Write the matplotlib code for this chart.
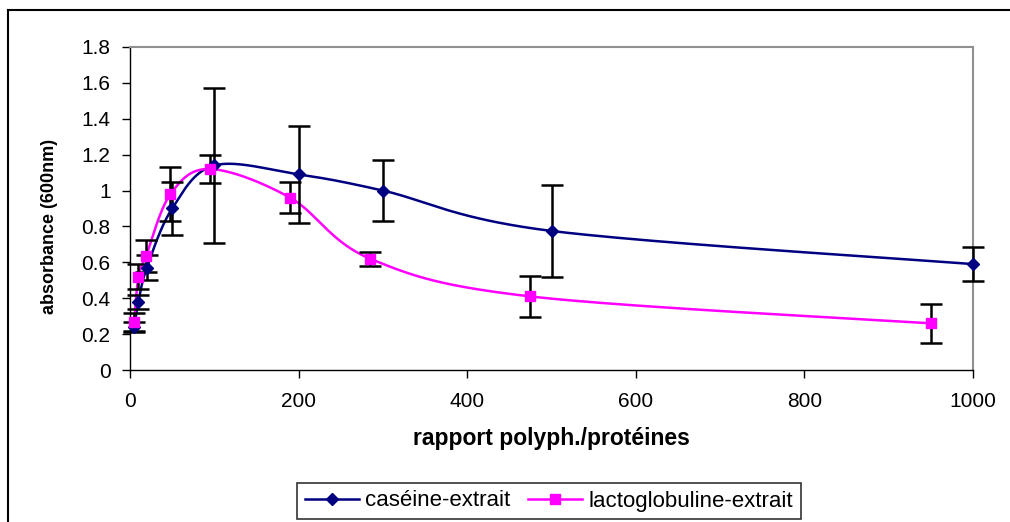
import matplotlib
matplotlib.use("Agg")
import matplotlib.pyplot as plt
import numpy as np
from matplotlib.lines import Line2D

# values
casein_x = [5, 10, 20, 50, 100, 200, 300, 500, 1000]
casein_y = [0.24, 0.38, 0.57, 0.90, 1.14, 1.09, 1.00, 0.775, 0.59]
casein_err = [0.03, 0.04, 0.07, 0.15, 0.43, 0.27, 0.17, 0.255, 0.095]

lacto_x = [5, 10, 19, 48, 95, 190, 285, 475, 950]
lacto_y = [0.27, 0.52, 0.635, 0.98, 1.12, 0.96, 0.62, 0.41, 0.26]
lacto_err = [0.05, 0.07, 0.09, 0.15, 0.08, 0.085, 0.04, 0.115, 0.11]

x_ticks = [0, 200, 400, 600, 800, 1000]
y_ticks = [0, 0.2, 0.4, 0.6, 0.8, 1, 1.2, 1.4, 1.6, 1.8]
y_tick_labels = ["0", "0.2", "0.4", "0.6", "0.8", "1", "1.2", "1.4", "1.6", "1.8"]

W, H = 1010, 522
FONT = "Liberation Sans"
plt.rcParams["font.family"] = [FONT, "DejaVu Sans"]


def smooth_curve(xs, ys, steps=40):
    # Excel-style smoothed line: cubic Bezier segments with Catmull-Rom controls
    p = np.column_stack([xs, ys]).astype(float)
    n = len(p)
    out = [p[0]]
    for i in range(n - 1):
        p0 = p[i - 1] if i > 0 else p[i]
        p1 = p[i]
        p2 = p[i + 1]
        p3 = p[i + 2] if i + 2 < n else p[i + 1]
        c1 = p1 + (p2 - p0) / 6.0
        c2 = p2 - (p3 - p1) / 6.0
        t = np.linspace(0, 1, steps)[1:, None]
        seg = ((1 - t) ** 3) * p1 + 3 * ((1 - t) ** 2) * t * c1 + 3 * (1 - t) * t ** 2 * c2 + t ** 3 * p2
        out.extend(seg)
    out = np.array(out)
    return out[:, 0], out[:, 1]


fig = plt.figure(figsize=(W / 100, H / 100), dpi=100)
ax = fig.add_axes([130 / W, 1 - 370 / H, 843 / W, 323 / H])

navy = "#000080"
magenta = "#FF00FF"

for xs, ys, errs, color, marker, msize in (
    (casein_x, casein_y, casein_err, navy, "D", 6.5),
    (lacto_x, lacto_y, lacto_err, magenta, "s", 6.5),
):
    sx, sy = smooth_curve(xs, ys)
    ax.plot(sx, sy, color=color, linewidth=1.8, zorder=2, clip_on=False)
    ax.errorbar(xs, ys, yerr=errs, fmt="none", ecolor="black", elinewidth=1.8,
                capsize=8, capthick=1.8, zorder=3, clip_on=False)
    ax.plot(xs, ys, linestyle="none", marker=marker, markersize=msize, color=color,
            markeredgecolor=color, zorder=4, clip_on=False)

ax.set_xlim(0, 1000)
ax.set_ylim(0, 1.8)
ax.set_xticks(x_ticks)
ax.set_yticks(y_ticks)
ax.set_yticklabels(y_tick_labels)
ax.tick_params(axis="both", direction="out", length=6, width=1, labelsize=15, colors="black")
ax.tick_params(axis="x", pad=10)
ax.tick_params(axis="y", pad=8)

for side in ("top", "right"):
    ax.spines[side].set_color("#909090")
    ax.spines[side].set_linewidth(1.5)
for side in ("left", "bottom"):
    ax.spines[side].set_color("black")
    ax.spines[side].set_linewidth(1)

fig.text(551 / W, 1 - 438 / H, "rapport polyph./protéines", ha="center", va="center",
         fontsize=16.5, fontweight="bold")
fig.text(50 / W, 1 - 226 / H, "absorbance (600nm)", ha="center", va="center",
         rotation=90, fontsize=13, fontweight="bold")

handles = [
    Line2D([], [], color=navy, marker="D", markersize=6.5, linewidth=1.8),
    Line2D([], [], color=magenta, marker="s", markersize=6.5, linewidth=1.8),
]
leg = fig.legend(handles, ["caséine-extrait", "lactoglobuline-extrait"],
                 loc="center", bbox_to_anchor=(549 / W, 1 - 501 / H), ncol=2,
                 fontsize=16, frameon=True, fancybox=False, edgecolor="black",
                 handlelength=2.4, handletextpad=0.3, columnspacing=0.8,
                 borderpad=0.35, borderaxespad=0)
leg.get_frame().set_linewidth(1.2)

# outer chart frame (cropped at right and bottom)
fig.add_artist(Line2D([8 / W, 8 / W], [0, 1 - 10 / H], color="black", linewidth=1.5,
                      transform=fig.transFigure))
fig.add_artist(Line2D([8 / W, 1], [1 - 10 / H, 1 - 10 / H], color="black", linewidth=1.5,
                      transform=fig.transFigure))

fig.savefig("out.png", dpi=100)
